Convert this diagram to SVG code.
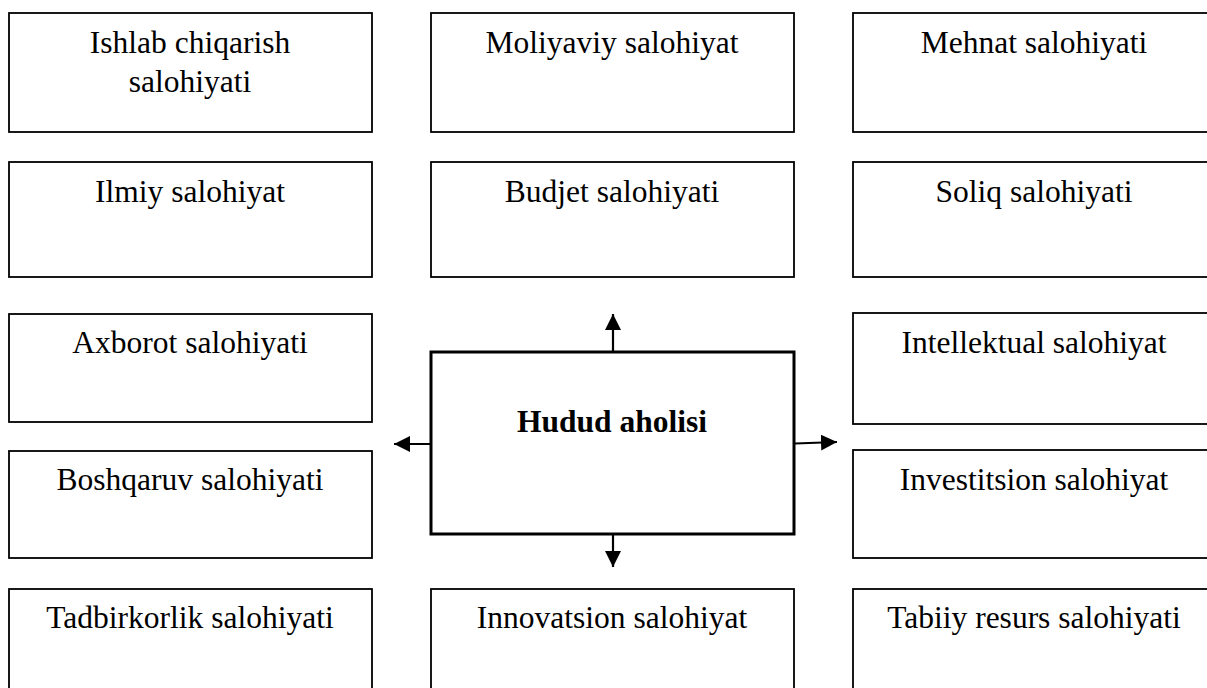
<svg xmlns="http://www.w3.org/2000/svg" width="1207" height="688" viewBox="0 0 1207 688">
<style>
.box{fill:#fff;stroke:#000;stroke-width:1.8}
.main{fill:#fff;stroke:#000;stroke-width:3}
.t{font-family:"Liberation Serif","Times New Roman",serif;font-size:31.5px;fill:#000;text-anchor:middle}
.b{font-weight:bold}
.c{stroke:#000;stroke-width:2.2;fill:none;marker-end:url(#ah)}
</style>
<defs>
<marker id="ah" markerUnits="userSpaceOnUse" markerWidth="17" markerHeight="16" refX="16" refY="8" orient="auto">
<path d="M0,0 L16,8 L0,16 Z" fill="#000"/>
</marker>
</defs>
<rect width="1207" height="688" fill="#fff"/>
<g id="n1"><rect class="box" x="9" y="13" width="363" height="119"/><text class="t" x="190" y="53">Ishlab chiqarish</text><text class="t" x="190" y="92">salohiyati</text></g>
<g id="n2"><rect class="box" x="431" y="13" width="363" height="119"/><text class="t" x="612" y="53">Moliyaviy salohiyat</text></g>
<g id="n3"><rect class="box" x="853" y="13" width="362" height="119"/><text class="t" x="1034" y="53">Mehnat salohiyati</text></g>
<g id="n4"><rect class="box" x="9" y="162" width="363" height="115"/><text class="t" x="190" y="202">Ilmiy salohiyat</text></g>
<g id="n5"><rect class="box" x="431" y="162" width="363" height="115"/><text class="t" x="612" y="202">Budjet salohiyati</text></g>
<g id="n6"><rect class="box" x="853" y="162" width="362" height="115"/><text class="t" x="1034" y="202">Soliq salohiyati</text></g>
<g id="n7"><rect class="box" x="9" y="314" width="363" height="108"/><text class="t" x="190" y="353">Axborot salohiyati</text></g>
<g id="n8"><rect class="box" x="853" y="313" width="362" height="111"/><text class="t" x="1034" y="353">Intellektual salohiyat</text></g>
<g id="n9"><rect class="box" x="9" y="451" width="363" height="107"/><text class="t" x="190" y="490">Boshqaruv salohiyati</text></g>
<g id="n10"><rect class="box" x="853" y="450" width="362" height="108"/><text class="t" x="1034" y="490">Investitsion salohiyat</text></g>
<g id="n11"><rect class="box" x="9" y="589" width="363" height="110"/><text class="t" x="190" y="628">Tadbirkorlik salohiyati</text></g>
<g id="n12"><rect class="box" x="431" y="589" width="363" height="110"/><text class="t" x="612" y="628">Innovatsion salohiyat</text></g>
<g id="n13"><rect class="box" x="853" y="589" width="362" height="110"/><text class="t" x="1034" y="628">Tabiiy resurs salohiyati</text></g>
<g id="center"><rect class="main" x="431" y="352" width="363" height="182"/><text class="t b" x="612" y="432">Hudud aholisi</text></g>
<g id="connectors">
<line class="c" x1="613" y1="351" x2="613" y2="314"/>
<line class="c" x1="613" y1="535" x2="613" y2="567"/>
<line class="c" x1="430" y1="444" x2="394" y2="444"/>
<line class="c" x1="795" y1="443.5" x2="837" y2="442"/>
</g>
</svg>
